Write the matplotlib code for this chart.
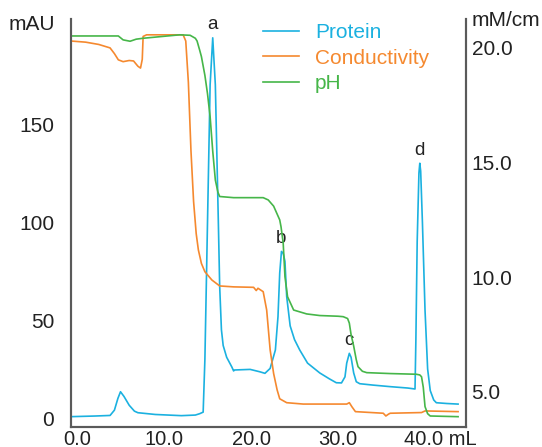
import matplotlib
matplotlib.use("Agg")
import matplotlib.pyplot as plt
from matplotlib.transforms import ScaledTranslation

plt.rcParams['font.family'] = ['Liberation Sans', 'DejaVu Sans']

# ---- data ----
protein_ml = [-0.6, 2.0, 3.8, 4.3, 4.7, 5.0, 5.4, 6.0, 6.6, 7.0, 9.0, 12.0, 13.6, 14.1,
              14.5, 14.7, 15.0, 15.3, 15.6, 15.9, 16.24, 16.4, 16.6, 16.8, 17.2, 17.8,
              18.0, 18.1, 19.9, 21.0, 21.6, 22.2, 22.8, 23.1, 23.3, 23.5, 23.7,
              23.9, 24.1, 24.5, 25.0, 25.6, 26.5, 27.9, 29.0, 29.8, 30.4, 30.8, 31.0,
              31.3, 31.5, 31.8, 32.1, 32.5, 34.0, 36.0, 38.0, 38.85, 38.95, 39.1, 39.3, 39.4,
              39.5, 39.7, 40.0, 40.3, 40.6, 41.0, 41.3, 42.5, 43.8]
protein_mau = [0.7, 1.0, 1.3, 4, 10, 13.4, 11, 6.5, 3.5, 2.7, 1.8, 1.2, 1.5, 2.2,
               3, 30, 100, 170, 194, 170, 101, 67, 45, 37, 31, 26,
               24, 24.5, 24.8, 23.6, 22.8, 25.3, 34.7, 51.7, 74, 85, 84,
               80, 62, 47, 40, 34.7, 28, 23, 20, 18, 17.9, 21, 28,
               33, 31, 23, 18.5, 17.5, 16.8, 16.0, 15.3, 14.8, 40, 90, 125, 130,
               126, 100, 55, 25, 14, 9.2, 7.8, 7.4, 7.1]

cond_ml = [-0.7, 1.0, 2.5, 3.8, 4.3, 4.75, 5.3, 6.0, 6.5, 7.0, 7.3, 7.5, 7.6, 8.0,
           12.2, 12.5, 12.8, 13.1, 13.4, 13.7, 13.95, 14.3, 14.7, 15.5, 16.4, 18.0, 20.3,
           20.6, 20.8, 21.4, 21.8, 22.2, 22.6, 23.0, 23.3, 24.1, 26.0, 31.0, 31.3, 31.6,
           32.0, 35.2, 35.5, 35.8, 36.0, 39.6, 40.0, 43.8]
cond_mmcm = [20.3, 20.25, 20.15, 20.0, 19.75, 19.48, 19.4, 19.45, 19.43, 19.2, 19.12, 19.5, 20.5, 20.57,
             20.57, 20.3, 18.5, 15.5, 13.3, 11.9, 11.19, 10.6, 10.24, 9.88, 9.62, 9.58, 9.56,
             9.42, 9.52, 9.37, 8.57, 6.83, 5.8, 5.09, 4.7, 4.53, 4.47, 4.47, 4.53, 4.35,
             4.14, 4.07, 3.95, 4.03, 4.07, 4.1, 4.17, 4.14]

ph_ml = [-0.7, 4.75, 5.3, 6.1, 6.8, 7.6, 11.8, 13.0, 13.6, 13.8, 14.1, 14.3, 14.7, 15.0,
         15.3, 15.6, 15.9, 16.2, 16.4, 18.0, 21.4, 21.98, 22.6, 23.3, 23.45, 23.7, 23.9,
         24.2, 24.9, 26.4, 27.9, 30.0, 30.6, 31.1, 31.3, 31.5, 31.8, 32.1, 32.3, 32.8,
         33.3, 36.0, 39.0, 39.4, 39.6, 39.8, 40.0, 40.3, 40.6, 43.8]
ph_val = [20.52, 20.52, 20.35, 20.29, 20.38, 20.42, 20.57, 20.55, 20.42, 20.3, 19.9, 19.62, 18.8, 18.0,
          17.0, 15.5, 14.24, 13.7, 13.52, 13.47, 13.47, 13.37, 13.1, 12.5, 12.2, 11.48, 10.03,
          9.15, 8.57, 8.4, 8.33, 8.3, 8.28, 8.2, 8.0, 7.5, 7.0, 6.4, 6.1, 5.9,
          5.84, 5.8, 5.77, 5.74, 5.66, 5.2, 4.36, 4.05, 3.95, 3.92]

x_ticks = [0, 10, 20, 30, 40]
x_ticklabels = ["0.0", "10.0", "20.0", "30.0", "40.0 mL"]
left_ticks = [0, 50, 100, 150]
right_ticks = [5, 10, 15, 20]
right_ticklabels = ["5.0", "10.0", "15.0", "20.0"]
peaks = [("a", 15.6, 194), ("b", 23.5, 85), ("c", 31.3, 33), ("d", 39.4, 130)]

BLUE = "#1bb1e0"
ORANGE = "#f5892f"
GREEN = "#46b649"
SPINE = "#5a5a5a"
TXT = "#222222"

fig = plt.figure(figsize=(5.42, 4.47), dpi=100)
ax = fig.add_axes([71/542, 1-427/447, (466-71)/542, (427-19)/447])
ax2 = ax.twinx()

ax.set_xlim(-0.69, 44.71)
ax.set_ylim(-4.59, 203.6)
ax2.set_ylim(3.47, 21.26)

lp, = ax.plot(protein_ml, protein_mau, color=BLUE, lw=1.2, label="Protein")
lc, = ax2.plot(cond_ml, cond_mmcm, color=ORANGE, lw=1.2, label="Conductivity")
lh, = ax2.plot(ph_ml, ph_val, color=GREEN, lw=1.2, label="pH")

for a in (ax, ax2):
    a.spines['top'].set_visible(False)
    for s in ('left', 'right', 'bottom'):
        a.spines[s].set_color(SPINE)
        a.spines[s].set_linewidth(1.5)

ax.set_xticks(x_ticks)
ax.set_xticklabels(x_ticklabels)
ax.set_yticks(left_ticks)
ax.tick_params(axis='x', length=0, pad=2, labelsize=14.5, colors=TXT)
ax.tick_params(axis='y', length=0, pad=12, labelsize=15, colors=TXT)
ax2.set_yticks(right_ticks)
ax2.set_yticklabels(right_ticklabels)
ax2.tick_params(axis='y', length=0, pad=4, labelsize=15, colors=TXT)

# last x label: "40.0" centred on its tick, unit trailing to the right
last = ax.get_xticklabels()[-1]
last.set_ha('left')
last.set_transform(last.get_transform() + ScaledTranslation(-21/100, 0, fig.dpi_scale_trans))

fig.text(55/542, 1-25/447, "mAU", ha='right', va='center', fontsize=15, color=TXT)
fig.text(472/542, 1-21/447, "mM/cm", ha='left', va='center', fontsize=15, color=TXT)

for name, px, py in peaks:
    ax.annotate(name, (px, py), xytext=(0, 6), textcoords='offset points',
                ha='center', va='baseline', fontsize=13.5, color=TXT)

leg = ax2.legend(handles=[lp, lc, lh], loc='upper left',
                 bbox_to_anchor=(263/542, 1-23.5/447), bbox_transform=fig.transFigure,
                 frameon=False, fontsize=15, handlelength=1.75, handletextpad=0.75,
                 labelspacing=0.3, borderpad=0, borderaxespad=0, labelcolor='linecolor')

fig.savefig("out.png", dpi=100)
